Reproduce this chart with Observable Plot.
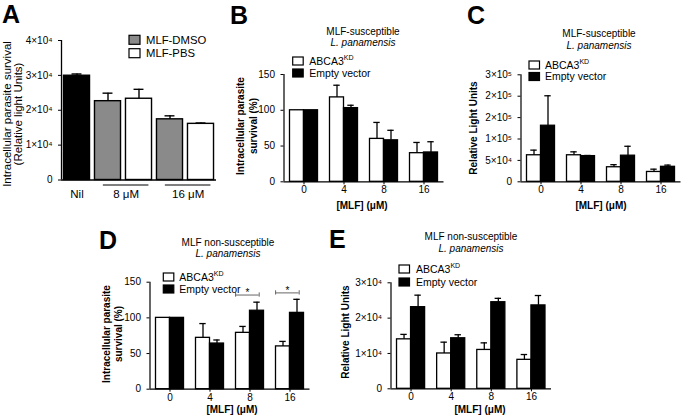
<!DOCTYPE html>
<html><head><meta charset="utf-8">
<script src="https://cdn.jsdelivr.net/npm/d3@7"></script>
<script src="https://cdn.jsdelivr.net/npm/@observablehq/plot@0.6"></script>
<style>
body{margin:0;background:#fff}
#fig{position:relative;width:683px;height:418px;overflow:hidden;background:#fff}
#fig svg{position:absolute;left:0;top:0}
</style></head>
<body><div id="fig"></div>
<script>
// ---------- Panel A data ----------
const aTreatment = ["Nil", "MLF-DMSO", "MLF-PBS", "MLF-DMSO", "MLF-PBS"];
const aGroup = ["Nil", "8 μM", "8 μM", "16 μM", "16 μM"];
const aMean = [29900, 22600, 23300, 17400, 16100];
const aSem  = [500, 2300, 2700, 1000, 250];
const aTicks = [0, 10000, 20000, 30000, 40000];
const aTickLabels = ["0", "1×10⁴", "2×10⁴", "3×10⁴", "4×10⁴"];

// ---------- Panels B-E data ----------
const doses = ["0", "4", "8", "16"];
const pctTicks = [0, 50, 100, 150];
const bAbca3 = [100, 118, 60, 40],  bAbca3Err = [0, 17, 23, 15];
const bEmpty = [100, 103, 58, 41],  bEmptyErr = [0, 4, 14, 15];
const cAbca3 = [62000, 62000, 34000, 23000], cAbca3Err = [12000, 8000, 6000, 6500];
const cEmpty = [131000, 60000, 61000, 35000], cEmptyErr = [70000, 1500, 22000, 4000];
const cTicks = [0, 50000, 100000, 150000, 200000, 250000];
const cTickLabels = ["0", "5×10⁴", "1×10⁵", "2×10⁵", "2×10⁵", "3×10⁵"];
const dAbca3 = [100, 72, 79, 60],  dAbca3Err = [0, 20, 9, 7];
const dEmpty = [100, 64, 110, 107], dEmptyErr = [0, 5, 12, 19];
const dSigDoses = ["8", "16"];
const dSigLevels = [132, 135];
const eAbca3 = [14000, 10000, 11000, 8200], eAbca3Err = [1400, 3200, 2000, 1500];
const eEmpty = [23100, 14300, 24500, 23600], eEmptyErr = [3400, 1000, 1100, 2800];
const eTicks = [0, 10000, 20000, 30000];
const eTickLabels = ["0", "1×10⁴", "2×10⁴", "3×10⁴"];

// ---------- helpers ----------
const W = 683, H = 418;
const FONT = "'Liberation Sans', Arial, Helvetica, sans-serif";
const fig = document.getElementById("fig");
const baseStyle = {fontFamily: FONT, fontSize: "10px", background: "transparent", color: "black", overflow: "visible"};
const frame = (l, r, t, b) => ({width: W, height: H, marginLeft: l, marginRight: W - r, marginTop: t, marginBottom: H - b});

// Panel A
(function () {
  const rows = aTreatment.map((t, i) => ({i, t, mean: aMean[i], sem: aSem[i]}));
  const HB = 0.42, CAP = 0.16;
  const groups = [];
  aGroup.forEach((g, i) => {
    let G = groups.find(x => x.label === g);
    if (!G) groups.push(G = {label: g, first: i, last: i});
    G.last = i;
  });
  groups.forEach(g => {
    g.x1 = g.first === g.last ? g.first : g.first - 0.15;
    g.x2 = g.first === g.last ? g.last : g.last + 0.32;
  });
  const fills = {"Nil": "black", "MLF-DMSO": "#8a8a8a", "MLF-PBS": "white"};
  const svg = Plot.plot({
    ...frame(61, 216, 40, 179.5),
    style: baseStyle,
    x: {domain: [-0.5, 4.5], axis: null},
    y: {domain: [0, 40000], ticks: aTicks, tickFormat: d => aTickLabels[aTicks.indexOf(d)], tickSize: 3, label: null},
    marks: [
      ...Object.keys(fills).map(k => Plot.rect(rows.filter(d => d.t === k), {
        x1: d => d.i - HB, x2: d => d.i + HB, y1: 0, y2: "mean", fill: fills[k], stroke: "black", strokeWidth: 1.4})),
      Plot.ruleX(rows, {x: "i", y1: "mean", y2: d => d.mean + d.sem, stroke: "black", strokeWidth: 1.4}),
      Plot.ruleY(rows, {y: d => d.mean + d.sem, x1: d => d.i - CAP, x2: d => d.i + CAP, stroke: "black", strokeWidth: 1.4}),
      Plot.ruleY([0], {stroke: "black", strokeWidth: 1.3}),
      Plot.ruleX([-0.5], {stroke: "black", strokeWidth: 1.3}),
      Plot.ruleY(groups.filter(g => g.last > g.first), {y: 0, x1: "x1", x2: "x2", dy: 5, stroke: "black", strokeWidth: 1.2}),
      Plot.text(groups, {x: d => (d.x1 + d.x2) / 2, y: 0, text: "label", dy: 14.5, fontSize: 11.5, lineAnchor: "middle", fill: "black"})
    ]
  });
  fig.appendChild(svg);
})();

function grouped({box, yMax, ticks, labels, abca3, abca3Err, empty, emptyErr, sig}) {
  const rows = doses.flatMap((d, i) => [
    {i, s: 0, mean: abca3[i], err: abca3Err[i]},
    {i, s: 1, mean: empty[i], err: emptyErr[i]}
  ]);
  const BW = 0.35, CAP = 0.08;
  const left = d => d.i + (d.s ? 0 : -BW);
  const right = d => d.i + (d.s ? BW : 0);
  const mid = d => d.i + (d.s ? BW / 2 : -BW / 2);
  const errRows = rows.filter(d => d.err > 0);
  const marks = [
    Plot.rect(rows.filter(d => d.s === 0), {x1: left, x2: right, y1: 0, y2: "mean", fill: "white", stroke: "black", strokeWidth: 1.3}),
    Plot.rect(rows.filter(d => d.s === 1), {x1: left, x2: right, y1: 0, y2: "mean", fill: "black", stroke: "black", strokeWidth: 1.3}),
    Plot.ruleX(errRows, {x: mid, y1: "mean", y2: d => d.mean + d.err, stroke: "black", strokeWidth: 1.3}),
    Plot.ruleY(errRows, {y: d => d.mean + d.err, x1: d => mid(d) - CAP, x2: d => mid(d) + CAP, stroke: "black", strokeWidth: 1.3}),
    Plot.ruleY([0], {stroke: "black", strokeWidth: 1.2}),
    Plot.ruleX([-0.5], {stroke: "black", strokeWidth: 1.2})
  ];
  if (sig) {
    const s = sig.doses.map((d, k) => ({i: doses.indexOf(d), level: sig.levels[k]}));
    marks.push(
      Plot.ruleY(s, {y: "level", x1: d => d.i - 0.36, x2: d => d.i + 0.23, stroke: "#666", strokeWidth: 1}),
      Plot.ruleX(s, {x: d => d.i - 0.36, y1: d => d.level - 3, y2: d => d.level + 3, stroke: "#666", strokeWidth: 1}),
      Plot.ruleX(s, {x: d => d.i + 0.23, y1: d => d.level - 3, y2: d => d.level + 3, stroke: "#666", strokeWidth: 1}),
      Plot.text(s, {x: d => d.i - 0.065, y: "level", text: () => "*", dy: -2, lineAnchor: "middle", fontSize: 10, fill: "black"})
    );
  }
  const svg = Plot.plot({
    ...frame(...box),
    style: baseStyle,
    x: {domain: [-0.5, 3.5], ticks: [0, 1, 2, 3], tickFormat: i => doses[i], tickSize: 3, tickPadding: 1.5, label: null},
    y: {domain: [0, yMax], ticks, tickFormat: d => labels[ticks.indexOf(d)], tickSize: 3, label: null},
    marks
  });
  fig.appendChild(svg);
}

grouped({box: [283.5, 443.5, 74, 181.3], yMax: 150, ticks: pctTicks, labels: pctTicks.map(String),
  abca3: bAbca3, abca3Err: bAbca3Err, empty: bEmpty, emptyErr: bEmptyErr});
grouped({box: [520.5, 680.5, 74.3, 181.3], yMax: 250000, ticks: cTicks, labels: cTickLabels,
  abca3: cAbca3, abca3Err: cAbca3Err, empty: cEmpty, emptyErr: cEmptyErr});
grouped({box: [149.5, 309.5, 281.7, 388.7], yMax: 150, ticks: pctTicks, labels: pctTicks.map(String),
  abca3: dAbca3, abca3Err: dAbca3Err, empty: dEmpty, emptyErr: dEmptyErr, sig: {doses: dSigDoses, levels: dSigLevels}});
grouped({box: [390.5, 551, 282.3, 388.3], yMax: 30000, ticks: eTicks, labels: eTickLabels,
  abca3: eAbca3, abca3Err: eAbca3Err, empty: eEmpty, emptyErr: eEmptyErr});

// ---------- text annotations ----------
const ov = d3.select(fig).append("svg").attr("width", W).attr("height", H).style("font-family", FONT);
function txt(x, y, s, o = {}) {
  return ov.append("text").attr("x", x).attr("y", y).text(s)
    .attr("font-size", o.size || 10).attr("font-weight", o.bold ? "bold" : null)
    .attr("font-style", o.italic ? "italic" : null).attr("text-anchor", o.anchor || "start").attr("fill", "black");
}
function vtxt(x, cy, s, o = {}) {
  ov.append("text").attr("transform", `translate(${x},${cy}) rotate(-90)`).attr("dy", "0.35em")
    .attr("text-anchor", "middle").attr("font-size", o.size || 10).attr("font-weight", o.bold ? "bold" : null).text(s);
}
[["A", 2, 23], ["B", 230, 24], ["C", 467, 24], ["D", 99, 249], ["E", 329, 248]]
  .forEach(([l, x, y]) => txt(x, y, l, {size: 25, bold: true}));

[["MLF-susceptible", 363, 34.5, 46.2], ["MLF-susceptible", 599, 37, 48.5],
 ["MLF non-susceptible", 228, 245.8, 257], ["MLF non-susceptible", 471, 239.5, 252]]
  .forEach(([t, x, y1, y2]) => {
    txt(x, y1, t, {anchor: "middle"});
    txt(x, y2, "L. panamensis", {anchor: "middle", italic: true});
  });

function legend2(x, tx, c1, c2) {
  [[c1, "white"], [c2, "black"]].forEach(([cy, f], k) => {
    ov.append("rect").attr("x", x).attr("y", cy - 4).attr("width", 10.5).attr("height", 8)
      .attr("fill", f).attr("stroke", "black").attr("stroke-width", 1.2);
    const t = txt(tx, cy + 3.8, k === 0 ? "ABCA3" : "Empty vector", {size: 10.5});
    if (k === 0) t.append("tspan").attr("font-size", 7).attr("dy", -4.5).text("KD");
  });
}
legend2(292.7, 309.3, 61, 73);
legend2(529, 545, 65, 76.5);
legend2(163.3, 179.3, 277, 289);
legend2(399, 416, 269, 282);

// Panel A legend
[["MLF-DMSO", "#8a8a8a", 39.8], ["MLF-PBS", "white", 53.2]].forEach(([t, f, cy]) => {
  ov.append("rect").attr("x", 129).attr("y", cy - 4.5).attr("width", 11).attr("height", 9)
    .attr("fill", f).attr("stroke", "black").attr("stroke-width", 1.2);
  txt(146, cy + 4, t, {size: 11.3});
});

// axis titles
vtxt(6.5, 114, "Intracellular parasite survival", {size: 11.5});
vtxt(17.5, 114, "(Relative light Units)", {size: 11.5});
vtxt(240, 126, "Intracellular parasite", {bold: true});
vtxt(253, 126, "survival (%)", {bold: true});
vtxt(473, 128, "Relative Light Units", {bold: true});
vtxt(106.7, 334, "Intracellular parasite", {bold: true});
vtxt(118.5, 334, "survival (%)", {bold: true});
vtxt(345, 332, "Relative Light Units", {bold: true});
[[362, 205], [601, 205], [232, 409], [480, 409]].forEach(([x, cy]) =>
  txt(x, cy + 3.5, "[MLF] (μM)", {bold: true, anchor: "middle"}));
</script>
</body></html>
